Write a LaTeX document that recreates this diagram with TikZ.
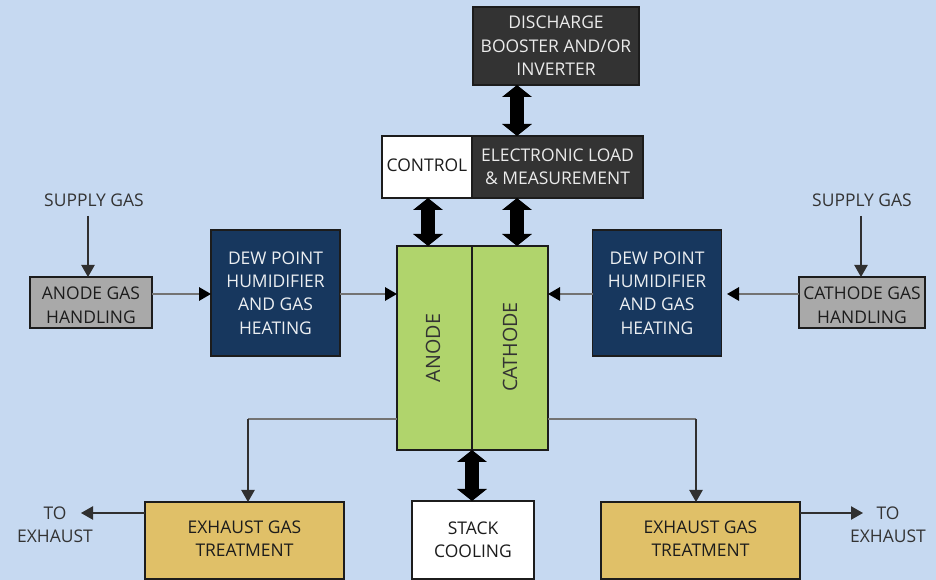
\documentclass[tikz,border=0pt]{standalone}
\usepackage{fontspec}
\setmainfont{Open Sans}
\usetikzlibrary{arrows.meta}
\definecolor{bgc}{HTML}{C6D9F1}
\definecolor{navy}{HTML}{17375E}
\definecolor{dark}{HTML}{333333}
\definecolor{midg}{HTML}{A9A9A9}
\definecolor{leaf}{HTML}{B0D46C}
\definecolor{tanc}{HTML}{E0C068}
\definecolor{ink}{HTML}{1C1C1C}
\definecolor{wire}{HTML}{303030}
\tikzset{
 x=0.75pt,y=-0.75pt,
 blk/.style={draw=ink,line width=1pt,align=center,inner sep=0pt,outer sep=0pt,font=\fontsize{13.1}{17.6}\selectfont,text=ink},
 darkbox/.style={blk,fill=dark,text=white!92!black},
 navybox/.style={blk,fill=navy,text=white!92!navy},
 graybox/.style={blk,fill=midg},
 greenbox/.style={blk,fill=leaf},
 tanbox/.style={blk,fill=tanc},
 whitebox/.style={blk,fill=white},
 lbl/.style={align=center,inner sep=0pt,font=\fontsize{13.1}{17.6}\selectfont,text=ink!90!white},
 wr/.style={draw=wire,line width=0.9pt,-{Triangle[width=10pt,length=9pt]}},
 wrg/.style={draw=black!55,line width=1.5pt,-{Triangle[width=10pt,length=9pt,color=black]}},
 big/.style={draw=black,line width=10pt,{Triangle[width=22pt,length=9pt]}-{Triangle[width=22pt,length=9pt]}},
}
\newcommand{\bx}[7]{%
 \pgfmathsetmacro{\mycx}{(#2+#4)/2}\pgfmathsetmacro{\mycy}{(#3+#5)/2}%
 \pgfmathsetmacro{\mywd}{(#4-#2)*0.75}\pgfmathsetmacro{\myht}{(#5-#3)*0.75}%
 \node[#6,minimum width=\mywd pt,minimum height=\myht pt] (#1) at (\mycx,\mycy) {#7};}
\newcommand{\pushdown}{\rule{0pt}{13.85pt}}
\newcommand{\pushup}{\rule[-3pt]{0pt}{3pt}}
\begin{document}
\begin{tikzpicture}
\useasboundingbox (0,0) rectangle (936,580);
\fill[bgc] (0,0) rectangle (936,580);
\bx{discharge}{473}{7}{639}{85}{darkbox}{DISCHARGE\\BOOSTER AND/OR\\INVERTER}
\bx{control}{382}{136}{472}{198}{whitebox}{CONTROL\pushup}
\bx{load}{472}{136}{643}{198}{darkbox}{ELECTRONIC LOAD\\\& MEASUREMENT}
\bx{dewl}{211}{230}{340}{356}{navybox}{DEW POINT\\HUMIDIFIER\\AND GAS\\HEATING}
\bx{dewr}{592.5}{230}{721.5}{356}{navybox}{DEW POINT\\HUMIDIFIER\\AND GAS\\HEATING}
\bx{gasl}{30}{277}{152}{328}{graybox}{\pushdown ANODE GAS\\HANDLING}
\bx{gasr}{799}{277}{925}{328}{graybox}{\pushdown CATHODE GAS\\HANDLING}
\bx{anode}{397}{246}{472}{450}{greenbox}{}
\bx{cathode}{472}{246}{548}{450}{greenbox}{}
\bx{exl}{145}{502}{344}{579}{tanbox}{EXHAUST GAS\\TREATMENT\pushup}
\bx{stack}{412}{501}{534}{579}{whitebox}{STACK\\COOLING}
\bx{exr}{601}{502}{800}{579}{tanbox}{EXHAUST GAS\\TREATMENT\pushup}
\node[lbl,rotate=90,font=\fontsize{14.8}{15}\selectfont] (anodet) at (433,348) {ANODE};
\node[lbl,rotate=90,font=\fontsize{14.8}{15}\selectfont] (cathodet) at (510,347) {CATHODE};
\node[lbl] (supl) at (94,200) {SUPPLY GAS};
\node[lbl] (supr) at (862,200) {SUPPLY GAS};
\node[lbl] (toxl) at (55,525) {TO\\EXHAUST};
\node[lbl] (toxr) at (888,525) {TO\\EXHAUST};
\coordinate (endl) at (81,513);
\coordinate (endr) at (863,513);
\coordinate (supla) at (88,216);
\coordinate (supra) at (861,216);
\coordinate (gasrin) at (727,294);
\draw[big] (discharge.south-|517,0) -- (load.north-|517,0);
\draw[big] (load.south-|517,0) -- (cathode.north-|517,0);
\draw[big] (control.south-|428,0) -- (anode.north-|428,0);
\draw[big] (cathode.south west) -- (cathode.south west|-stack.north);
\draw[wr] (supla) -- (supla|-gasl.north);
\draw[wr] (supra) -- (supra|-gasr.north);
\draw[wrg] (gasl.east|-0,294) -- (dewl.west|-0,294);
\draw[wrg] (dewl.east|-0,294) -- (anode.west|-0,294);
\draw[wrg] (gasr.west|-0,294) -- (gasrin);
\draw[wrg] (dewr.west|-0,294) -- (cathode.east|-0,294);
\draw[wrg,-] (anode.west|-0,419) -- (248,419);
\draw[wr] (248,419) -- (248,502);
\draw[wrg,-] (cathode.east|-0,419) -- (696,419);
\draw[wr] (696,419) -- (696,502);
\draw[wr] (exl.west|-0,513) -- (endl);
\draw[wr] (exr.east|-0,513) -- (endr);
\end{tikzpicture}
\end{document}
